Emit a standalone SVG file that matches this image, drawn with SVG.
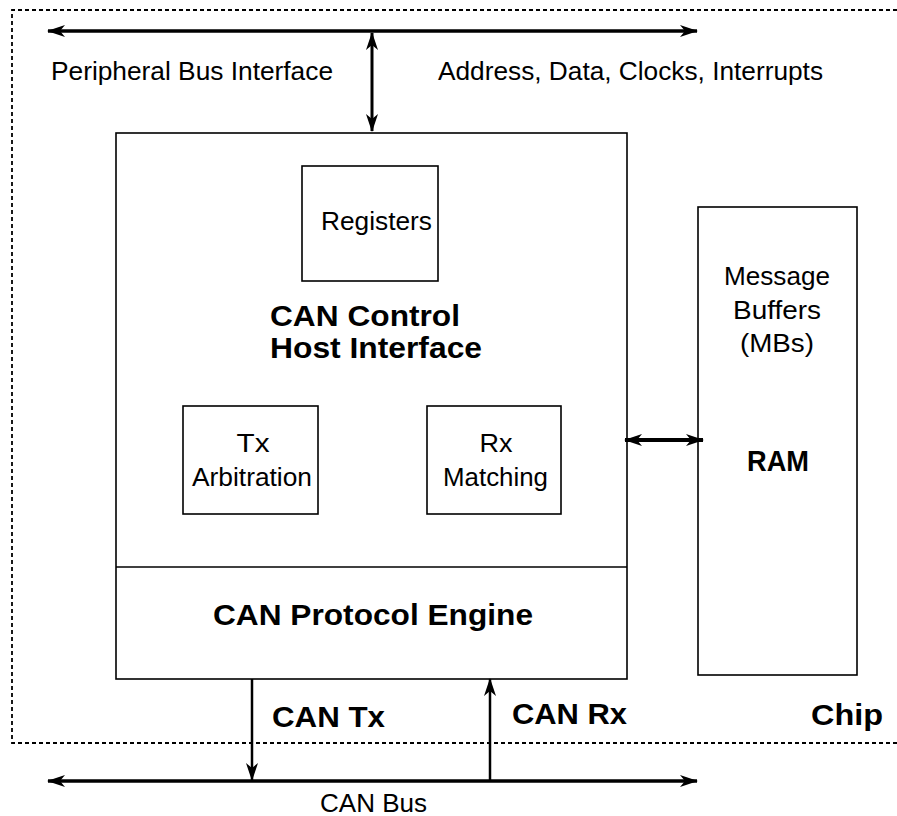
<svg xmlns="http://www.w3.org/2000/svg" width="897" height="816" viewBox="0 0 897 816">
<style>
.box{fill:none;stroke:#000;stroke-width:1.6}
.t{font-family:"Liberation Sans",Arial,sans-serif;font-size:25px;fill:#000}
.b{font-family:"Liberation Sans",Arial,sans-serif;font-size:29px;font-weight:bold;fill:#000}
.ln{stroke:#000;fill:none}
</style>
<defs>
<marker id="ah" viewBox="0 0 18 12" refX="17" refY="6" markerWidth="18" markerHeight="12" markerUnits="userSpaceOnUse" orient="auto-start-reverse">
<path d="M0,0 L18,6 L0,12 L5,6 z" fill="#000"/>
</marker>
</defs>
<rect width="897" height="816" fill="#fff"/>
<g id="chip">
<path d="M897 10 H12 V743 H897" fill="none" stroke="#000" stroke-width="1.8" stroke-dasharray="4,3"/>
<text class="b" x="811" y="725" font-size="30" textLength="72" lengthAdjust="spacingAndGlyphs">Chip</text>
</g>
<g id="peripheral-bus">
<text class="t" x="51" y="80" textLength="282" lengthAdjust="spacingAndGlyphs">Peripheral Bus Interface</text>
<text class="t" x="438" y="80" textLength="385" lengthAdjust="spacingAndGlyphs">Address, Data, Clocks, Interrupts</text>
</g>
<g id="can-control">
<rect class="box" x="116" y="133" width="511" height="546"/>
<line class="ln" x1="116" y1="567" x2="627" y2="567" stroke-width="1.6"/>
<text class="b" x="270" y="326" textLength="190" lengthAdjust="spacingAndGlyphs">CAN Control</text>
<text class="b" x="270" y="358" textLength="212" lengthAdjust="spacingAndGlyphs">Host Interface</text>
</g>
<g id="protocol-engine">
<text class="b" x="373" y="625" text-anchor="middle" textLength="320" lengthAdjust="spacingAndGlyphs">CAN Protocol Engine</text>
</g>
<g id="registers">
<rect class="box" x="302" y="166" width="136" height="115"/>
<text class="t" x="321" y="230" textLength="111" lengthAdjust="spacingAndGlyphs">Registers</text>
</g>
<g id="tx-arbitration">
<rect class="box" x="183" y="406" width="135" height="108"/>
<text class="t" x="253" y="452" text-anchor="middle" textLength="33" lengthAdjust="spacingAndGlyphs">Tx</text>
<text class="t" x="192" y="486" textLength="120" lengthAdjust="spacingAndGlyphs">Arbitration</text>
</g>
<g id="rx-matching">
<rect class="box" x="427" y="406" width="134" height="108"/>
<text class="t" x="496" y="452" text-anchor="middle" textLength="33" lengthAdjust="spacingAndGlyphs">Rx</text>
<text class="t" x="443" y="486" textLength="105" lengthAdjust="spacingAndGlyphs">Matching</text>
</g>
<g id="ram">
<rect class="box" x="698" y="207" width="159" height="468"/>
<text class="t" x="777" y="285" text-anchor="middle" textLength="106" lengthAdjust="spacingAndGlyphs">Message</text>
<text class="t" x="777" y="319" text-anchor="middle" textLength="88" lengthAdjust="spacingAndGlyphs">Buffers</text>
<text class="t" x="777" y="352" text-anchor="middle" textLength="74" lengthAdjust="spacingAndGlyphs">(MBs)</text>
<text class="b" x="747" y="471" textLength="62" lengthAdjust="spacingAndGlyphs">RAM</text>
</g>
<g id="can-bus">
<text class="t" x="320" y="812" textLength="107" lengthAdjust="spacingAndGlyphs">CAN Bus</text>
</g>
<g id="connectors">
<line class="ln" x1="48" y1="31" x2="697" y2="31" stroke-width="3.5" marker-start="url(#ah)" marker-end="url(#ah)"/>
<line class="ln" x1="372" y1="33" x2="372" y2="131" stroke-width="3" marker-start="url(#ah)" marker-end="url(#ah)"/>
<line class="ln" x1="625" y1="440" x2="703" y2="440" stroke-width="4" marker-start="url(#ah)" marker-end="url(#ah)"/>
<line class="ln" x1="48" y1="781" x2="697" y2="781" stroke-width="3.5" marker-start="url(#ah)" marker-end="url(#ah)"/>
<line class="ln" x1="252" y1="679" x2="252" y2="780" stroke-width="2.5" marker-end="url(#ah)"/>
<line class="ln" x1="490" y1="780" x2="490" y2="679" stroke-width="2.5" marker-end="url(#ah)"/>
<text class="b" x="272" y="727" font-size="30" textLength="113" lengthAdjust="spacingAndGlyphs">CAN Tx</text>
<text class="b" x="512" y="724" font-size="30" textLength="115" lengthAdjust="spacingAndGlyphs">CAN Rx</text>
</g>
</svg>
